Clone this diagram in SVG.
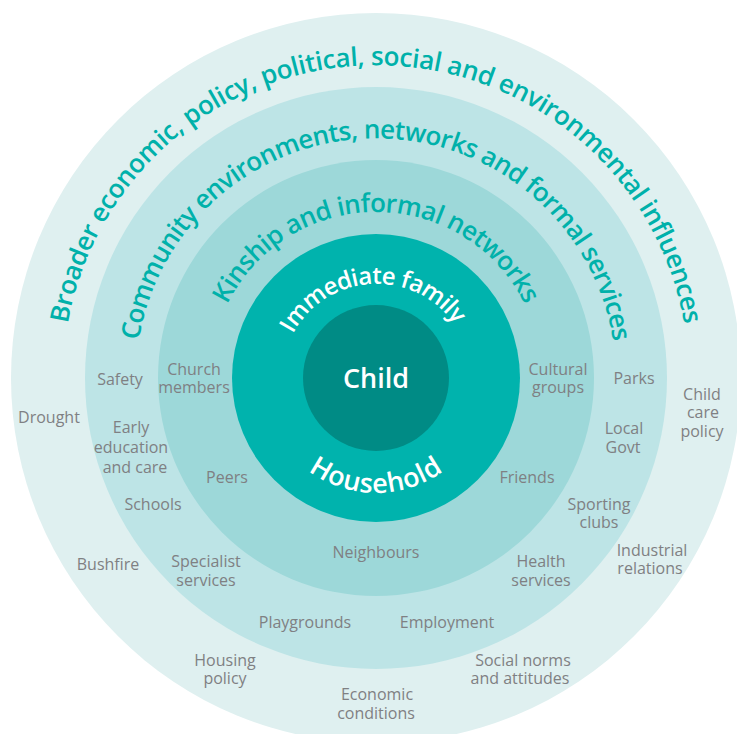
<svg xmlns="http://www.w3.org/2000/svg" xmlns:xlink="http://www.w3.org/1999/xlink" width="737" height="734" viewBox="0 0 737 734">
<style>
.ring-title{font-family:"Open Sans","Noto Sans","Liberation Sans",sans-serif;font-weight:600;font-size:26px;fill:#00b1aa}
.inner-title{font-family:"Open Sans","Noto Sans","Liberation Sans",sans-serif;font-weight:600;fill:#ffffff}
.lbl{font-family:"Open Sans","Noto Sans","Liberation Sans",sans-serif;font-weight:500;font-size:16px;fill:#7f8083;text-anchor:middle}
</style>
<defs>
<path id="arcOuter" d="M 67.8 323.6 A 313 313 0 0 1 684.2 323.6"/>
<path id="arcCommunity" d="M 139.0 340.5 A 240 240 0 0 1 613.0 340.5"/>
<path id="arcKinship" d="M 227.2 304.4 A 166 166 0 0 1 524.8 304.4"/>
<path id="arcFamily" d="M 292.9 333.9 A 95 95 0 0 1 452.9 322.2"/>
<path id="arcHousehold" d="M 308.4 471.0 A 115 115 0 0 0 443.6 471.0"/>
</defs>

<g id="ring-broader">
<circle cx="376" cy="378" r="365" fill="#dff0f0"/>
<text class="ring-title"><textPath xlink:href="#arcOuter" href="#arcOuter" textLength="874" lengthAdjust="spacing">Broader economic, policy, political, social and environmental influences</textPath></text>
</g>
<g id="ring-community">
<circle cx="376" cy="378" r="291" fill="#bde4e6"/>
<text class="ring-title"><textPath xlink:href="#arcCommunity" href="#arcCommunity" textLength="679" lengthAdjust="spacing">Community environments, networks and formal services</textPath></text>
</g>
<g id="ring-kinship">
<circle cx="376" cy="378" r="218" fill="#9dd8d9"/>
<text class="ring-title"><textPath xlink:href="#arcKinship" href="#arcKinship" textLength="369" lengthAdjust="spacing">Kinship and informal networks</textPath></text>
</g>
<g id="ring-family">
<circle cx="376" cy="378" r="144" fill="#00b3ad"/>
<text class="inner-title" font-size="24"><textPath xlink:href="#arcFamily" href="#arcFamily" textLength="194" lengthAdjust="spacing">Immediate family</textPath></text>
<text class="inner-title" font-size="27"><textPath xlink:href="#arcHousehold" href="#arcHousehold" textLength="144" lengthAdjust="spacing">Household</textPath></text>
</g>
<g id="child">
<circle cx="376" cy="378" r="73" fill="#008b85"/>
<text class="inner-title" font-size="27" x="376" y="388" text-anchor="middle">Child</text>
</g>

<g id="label-church"><text class="lbl" x="194" y="375">Church</text><text class="lbl" x="194" y="393">members</text></g>
<g id="label-cultural"><text class="lbl" x="558" y="375">Cultural</text><text class="lbl" x="558" y="393">groups</text></g>
<g id="label-peers"><text class="lbl" x="227" y="483">Peers</text></g>
<g id="label-friends"><text class="lbl" x="527" y="483">Friends</text></g>
<g id="label-neighbours"><text class="lbl" x="376" y="558">Neighbours</text></g>

<g id="label-safety"><text class="lbl" x="120" y="385">Safety</text></g>
<g id="label-early"><text class="lbl" x="131" y="433">Early</text><text class="lbl" x="131" y="453">education</text><text class="lbl" x="135" y="473">and care</text></g>
<g id="label-schools"><text class="lbl" x="153" y="510">Schools</text></g>
<g id="label-specialist"><text class="lbl" x="206" y="567">Specialist</text><text class="lbl" x="206" y="586">services</text></g>
<g id="label-playgrounds"><text class="lbl" x="305" y="628">Playgrounds</text></g>
<g id="label-employment"><text class="lbl" x="447" y="628">Employment</text></g>
<g id="label-health"><text class="lbl" x="541" y="567">Health</text><text class="lbl" x="541" y="586">services</text></g>
<g id="label-sporting"><text class="lbl" x="599" y="510">Sporting</text><text class="lbl" x="599" y="528">clubs</text></g>
<g id="label-localgovt"><text class="lbl" x="624" y="434">Local</text><text class="lbl" x="623" y="453">Govt</text></g>
<g id="label-parks"><text class="lbl" x="634" y="384">Parks</text></g>

<g id="label-drought"><text class="lbl" x="49" y="423">Drought</text></g>
<g id="label-bushfire"><text class="lbl" x="108" y="570">Bushfire</text></g>
<g id="label-housing"><text class="lbl" x="225" y="666">Housing</text><text class="lbl" x="225" y="684">policy</text></g>
<g id="label-economic"><text class="lbl" x="377" y="700">Economic</text><text class="lbl" x="376" y="719">conditions</text></g>
<g id="label-social"><text class="lbl" x="523" y="666">Social norms</text><text class="lbl" x="520" y="684">and attitudes</text></g>
<g id="label-industrial"><text class="lbl" x="652" y="556">Industrial</text><text class="lbl" x="650" y="574">relations</text></g>
<g id="label-childcare"><text class="lbl" x="702" y="400">Child</text><text class="lbl" x="703" y="418">care</text><text class="lbl" x="702" y="437">policy</text></g>
</svg>
